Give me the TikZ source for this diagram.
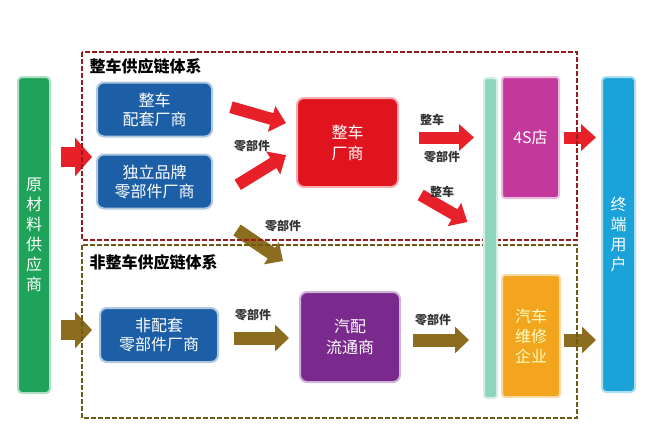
\documentclass[tikz,border=0pt]{standalone}
\usepackage{fontspec}
\setmainfont{Noto Sans CJK SC}
\usetikzlibrary{arrows.meta,positioning}
\pgfdeclarelayer{front}
\pgfsetlayers{main,front}
\definecolor{cgreen}{HTML}{1FA35A}
\definecolor{cblue}{HTML}{1D5FA6}
\definecolor{cred}{HTML}{E0141E}
\definecolor{cmag}{HTML}{C2399B}
\definecolor{cpurple}{HTML}{7A2A8C}
\definecolor{corange}{HTML}{F2A51D}
\definecolor{ccyan}{HTML}{1BA2D8}
\definecolor{cteal}{HTML}{8ED5BE}
\definecolor{arrred}{HTML}{E8202A}
\definecolor{arrbrown}{HTML}{8C6D1F}
\definecolor{framered}{HTML}{9B1B1B}
\definecolor{frameolive}{HTML}{6E5A14}

\begin{document}
\begin{tikzpicture}[x=1pt,y=-1pt,
  box/.style={rounded corners=7pt, line width=2pt, align=center, text=white,
    inner sep=0pt, font=\fontsize{16}{19}\selectfont},
  bluebox/.style={box, fill=cblue, draw=cblue!35!white, minimum width=115pt, minimum height=54pt},
  bigbox/.style={box, minimum width=101pt, minimum height=89pt, font=\fontsize{16}{21}\selectfont},
  tallbox/.style={box, rounded corners=3pt, minimum width=57pt, minimum height=121pt, font=\fontsize{16}{20}\selectfont},
  bar/.style={box, rounded corners=4pt, minimum width=32pt, minimum height=316pt, font=\fontsize{16}{20}\selectfont},
  title/.style={anchor=west, font=\bfseries\fontsize{16}{16}\selectfont},
  lbl/.style={font=\bfseries\fontsize{12}{12}\selectfont, text=black!80},
  redarr/.style={arrred, line width=12pt, -{Triangle[length=15pt,width=26pt]}},
  brownarr/.style={arrbrown, line width=13pt, -{Triangle[length=14pt,width=26pt]}},
  bigred/.style={arrred, line width=20pt, -{Triangle[length=17pt,width=38pt]}},
  bigbrown/.style={arrbrown, line width=20pt, -{Triangle[length=17pt,width=36pt]}},
  frame/.style={line width=1.6pt, dash pattern=on 5pt off 2pt}]
\useasboundingbox (0,0) rectangle (663,434);

\node[title] (t1) at (86,66) {整车供应链体系};
\node[title] (t2) at (86,262) {非整车供应链体系};

\node[bar, fill=cgreen, draw=cgreen!35!white] (raw) at (34,235) {原\\材\\料\\供\\应\\商};
\node[bluebox] (pt1) at (154.5,109.5) {整车\\配套厂商};
\node[bluebox] (pt2) at (154.5,181.5) {独立品牌\\零部件厂商};
\node[bigbox, fill=cred, draw=cred!35!white] (zc) at (347.5,142.5) {整车\\厂商};
\begin{pgfonlayer}{front}
\node[box, rounded corners=3pt, fill=cteal, draw=cteal!40!white, minimum width=13pt, minimum height=320pt] (tb) at (490.5,238) {};
\end{pgfonlayer}
\node[tallbox, fill=cmag, draw=cmag!35!white] (s4) at (530.5,137.5) {4S店};
\node[bar, fill=ccyan, draw=ccyan!35!white, minimum width=33pt, minimum height=315pt] (user) at (618.5,234.5) {终\\端\\用\\户};
\node[bluebox, minimum width=118pt] (fp) at (159,335) {非配套\\零部件厂商};
\node[bigbox, fill=cpurple, draw=cpurple!35!white, minimum width=100pt, minimum height=90pt] (qp) at (350,337) {汽配\\流通商};
\node[tallbox, fill=corange, draw=corange!40!white, minimum width=58pt, minimum height=122pt, text=yellow!25] (wx) at (531,336) {汽车\\维修\\企业};

\coordinate (in1) at (92,157);
\coordinate (in2) at (92,330);
\coordinate (d1) at (237,230);
\coordinate (d2) at (283,261);

\draw[bigred, shorten <=10pt] (raw.east |- in1) -- (in1);
\draw[bigbrown, shorten <=10pt] (raw.east |- in2) -- (in2);
\draw[redarr, shorten <=18.7pt, shorten >=10.4pt] ([yshift=7.5pt]pt1.east) -- ([yshift=16.5pt]zc.west);
\draw[redarr, shorten <=29pt, shorten >=11.7pt] ([yshift=-18.5pt]pt2.east) -- ([yshift=-6.5pt]zc.west);
\draw[redarr, shorten <=20pt, shorten >=27pt] (zc.east |- s4.west) -- (s4.west);
\draw[redarr, shorten <=25pt, shorten >=18pt] ([yshift=-40pt]zc.east) -- ([yshift=7pt]tb.west);
\draw[redarr, shorten <=4pt, shorten >=5pt] (s4.east) -- (s4.east -| user.west);
\draw[brownarr] (d1) -- (d2);
\draw[brownarr, shorten <=15pt, shorten >=10pt] ([yshift=-3pt]fp.east) -- ([yshift=-3pt]fp.east -| qp.west);
\draw[brownarr, shorten <=12pt, shorten >=32pt] ([yshift=-3pt]qp.east) -- ([yshift=-3pt]qp.east -| wx.west);
\draw[brownarr, shorten <=3pt, shorten >=5pt] ([yshift=-4pt]wx.east) -- ([yshift=-4pt]wx.east -| user.west);

\node[lbl] (l1) at (252,146) {零部件};
\node[lbl] (l2) at (432,120) {整车};
\node[lbl] (l3) at (442,157) {零部件};
\node[lbl] (l4) at (442,192) {整车};
\node[lbl] (l5) at (283,226) {零部件};
\node[lbl] (l6) at (253,315) {零部件};
\node[lbl] (l7) at (433,320) {零部件};

\draw[frame, framered] (82,52) rectangle (577,240);
\draw[frame, frameolive] (82,245) rectangle (577,418);
\end{tikzpicture}
\end{document}
